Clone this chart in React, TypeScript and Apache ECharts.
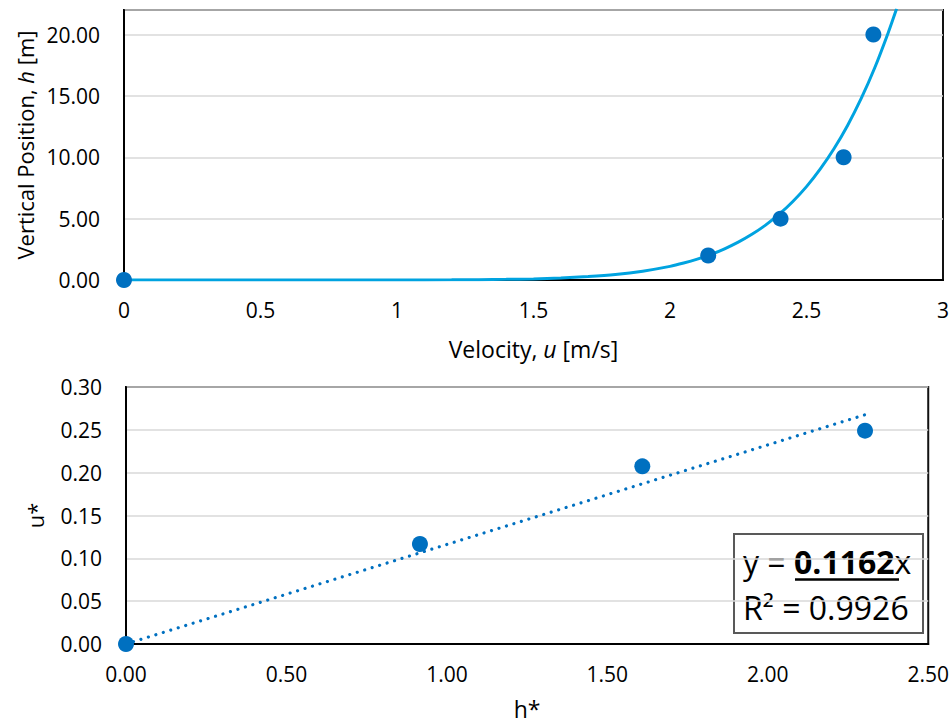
import React, { useEffect, useRef } from 'react';
import * as echarts from 'echarts';

// Top chart: measured points
const velocity = [0, 2.14, 2.405, 2.636, 2.745];
const heightM = [0, 2, 5, 10, 20];
// Top chart: trendline points
const fitVelocity = [0, 0.5, 1, 1.2, 1.3, 1.4, 1.5, 1.6, 1.7, 1.8, 1.9, 2, 2.05, 2.1, 2.15, 2.2, 2.25, 2.3, 2.35, 2.4, 2.45, 2.5, 2.55, 2.6, 2.65, 2.7, 2.75, 2.8, 2.83];
const fitHeight = [0, 0, 0.003, 0.014, 0.028, 0.052, 0.09, 0.16, 0.28, 0.45, 0.72, 1.11, 1.38, 1.7, 2.08, 2.54, 3.08, 3.72, 4.47, 5.36, 6.4, 7.61, 9.03, 10.67, 12.57, 14.77, 17.29, 20.19, 22.1];

// Bottom chart: non-dimensional points
const hStar = [0, 0.916, 1.609, 2.303];
const uStar = [0, 0.1167, 0.2074, 0.249];
// Bottom chart: linear trendline end points
const trendH = [0, 2.303];
const trendU = [0, 0.2676];

const eqCoef = '0.1162';
const eqR2 = '0.9926';

const FONT = 'Open Sans';
const BLUE = '#0070C0';
const CYAN = '#00A3E0';

export default function App() {
  const ref = useRef<HTMLDivElement>(null);
  useEffect(() => {
    document.body.style.margin = '0';
    if (!ref.current) return;
    const chart = echarts.init(ref.current, undefined, { renderer: 'svg' });
    const labelStyle = { color: '#000', fontFamily: FONT, fontSize: 21 };
    const xNameStyle = { color: '#000', fontFamily: FONT, fontSize: 23 };
    const yNameStyle = { color: '#000', fontFamily: FONT, fontSize: 22 };
    const splitLine = { show: true, lineStyle: { color: '#d9d9d9', width: 1.5 } };
    const axisLine = { show: true, lineStyle: { color: '#000', width: 2 } };
    chart.setOption({
      animation: false,
      backgroundColor: '#fff',
      grid: [
        { left: 124, top: 10, width: 819, height: 270, show: true, borderColor: '#111', borderWidth: 2 },
        { left: 126, top: 387, width: 816, height: 257, show: true, borderColor: '#111', borderWidth: 2 },
      ],
      xAxis: [
        {
          gridIndex: 0, type: 'value', min: 0, max: 3, interval: 0.5,
          axisLine, axisTick: { show: false }, splitLine: { show: false },
          axisLabel: { ...labelStyle, margin: 19 },
          name: 'Velocity, {i|u} [m/s]', nameLocation: 'middle', nameGap: 57,
          nameTextStyle: { ...xNameStyle, rich: { i: { ...xNameStyle, fontStyle: 'italic' } } },
        },
        {
          gridIndex: 1, type: 'value', min: 0, max: 2.5, interval: 0.5,
          axisLine, axisTick: { show: false }, splitLine: { show: false },
          axisLabel: { ...labelStyle, margin: 19, formatter: (v: number) => v.toFixed(2) },
          name: 'h*', nameLocation: 'middle', nameGap: 53, nameTextStyle: xNameStyle,
        },
      ],
      yAxis: [
        {
          gridIndex: 0, type: 'value', min: 0, max: 22, interval: 5,
          axisLine, axisTick: { show: false }, splitLine,
          axisLabel: { ...labelStyle, margin: 24, showMaxLabel: false, formatter: (v: number) => v.toFixed(2) },
          name: 'Vertical Position, {i|h} [m]', nameLocation: 'middle', nameGap: 88,
          nameTextStyle: { ...yNameStyle, rich: { i: { ...yNameStyle, fontStyle: 'italic' } } },
        },
        {
          gridIndex: 1, type: 'value', min: 0, max: 0.3, interval: 0.05,
          axisLine, axisTick: { show: false }, splitLine,
          axisLabel: { ...labelStyle, margin: 24, formatter: (v: number) => v.toFixed(2) },
          name: 'u*', nameLocation: 'middle', nameGap: 80, nameTextStyle: yNameStyle,
        },
      ],
      series: [
        {
          type: 'line', xAxisIndex: 0, yAxisIndex: 0,
          data: fitVelocity.map((u, i) => [u, fitHeight[i]]),
          showSymbol: false, smooth: 0.2,
          lineStyle: { color: CYAN, width: 3 }, z: 2,
        },
        {
          type: 'scatter', xAxisIndex: 0, yAxisIndex: 0,
          data: velocity.map((u, i) => [u, heightM[i]]),
          symbolSize: 16, itemStyle: { color: BLUE, opacity: 1 }, z: 3,
        },
        {
          type: 'line', xAxisIndex: 1, yAxisIndex: 1,
          data: trendH.map((h, i) => [h, trendU[i]]),
          showSymbol: false,
          lineStyle: { color: BLUE, width: 3.2, type: [0.01, 7.8], cap: 'round' }, z: 2,
        },
        {
          type: 'scatter', xAxisIndex: 1, yAxisIndex: 1,
          data: hStar.map((h, i) => [h, uStar[i]]),
          symbolSize: 16, itemStyle: { color: BLUE, opacity: 1 }, z: 3,
        },
      ],
      graphic: [
        {
          type: 'group', z: 10,
          children: [
            { type: 'rect', shape: { x: 734, y: 534, width: 189, height: 99 }, style: { fill: '#fff', stroke: '#595959', lineWidth: 2 } },
            {
              type: 'text', x: 743, y: 561,
              style: {
                text: `{a|y = }{b|${eqCoef}}{a|x}`, verticalAlign: 'middle', align: 'left',
                rich: {
                  a: { fontFamily: FONT, fontSize: 32, fill: '#000' },
                  b: { fontFamily: FONT, fontSize: 32, fontWeight: 'bold', fill: '#000' },
                },
              },
            },
            { type: 'line', shape: { x1: 795, y1: 579.5, x2: 899, y2: 579.5 }, style: { stroke: '#000', lineWidth: 2.5 } },
            {
              type: 'text', x: 743, y: 607,
              style: { text: `R² = ${eqR2}`, fontFamily: FONT, fontSize: 32, fill: '#000', verticalAlign: 'middle', align: 'left' },
            },
          ],
        },
      ],
    });
    return () => chart.dispose();
  }, []);
  return <div ref={ref} style={{ width: 952, height: 723 }} />;
}
